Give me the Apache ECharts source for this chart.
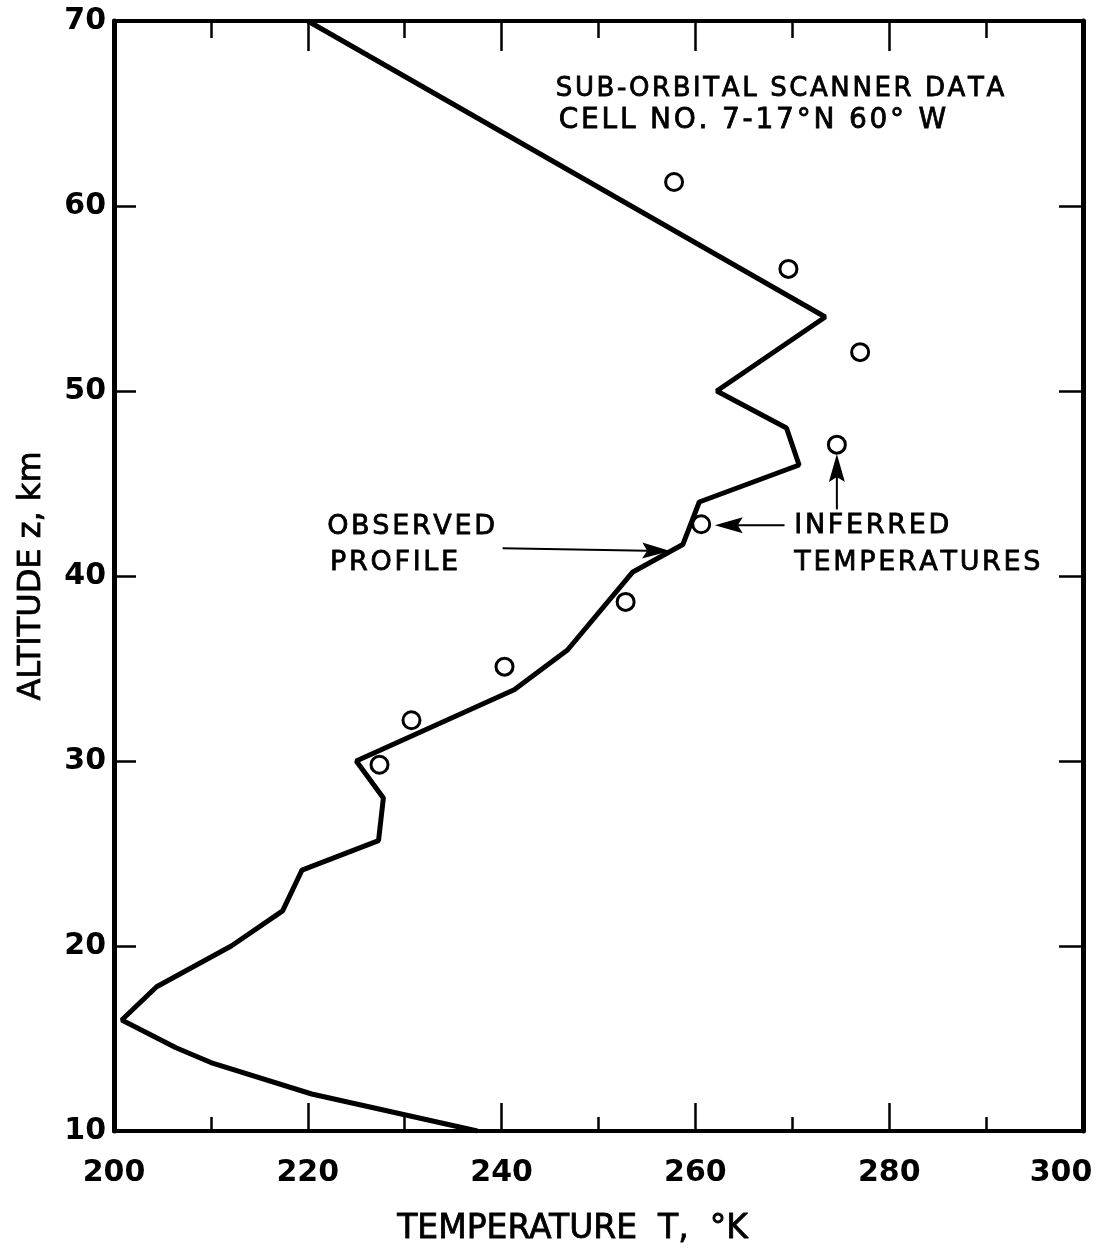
<!DOCTYPE html>
<html>
<head>
<meta charset="utf-8">
<script src="https://cdn.jsdelivr.net/npm/echarts@6/dist/echarts.min.js"></script>
<style>
  html, body { margin: 0; padding: 0; background: #fff; }
  #chart { width: 1102px; height: 1248px; }
</style>
</head>
<body>
<div id="chart"></div>
<script>
// Observed temperature profile (top of the atmosphere downward)
const profileTemp = [220.0, 273.4, 262.2, 269.4, 270.7, 260.4, 258.7, 253.5, 246.8, 241.3, 225.0, 227.8, 227.3, 219.4, 217.4, 212.1, 204.4, 200.8, 206.4, 210.0, 220.4, 237.5];
const profileAlt  = [70.0,  54.0,  50.0,  48.0,  46.0,  44.0,  41.7,  40.2,  36.0,  33.85, 30.0,  28.0,  25.7,  24.1,  21.9,  20.0,  17.8,  16.0,  14.5,  13.7,  12.0,  10.0];

// Temperatures inferred from the sub-orbital scanner
const inferredTemp = [257.8, 269.6, 277.0, 274.6, 260.6, 252.8, 240.3, 230.7, 227.4];
const inferredAlt  = [61.3,  56.6,  52.1,  47.1,  42.8,  38.6,  35.1,  32.2,  29.8];

// Axis ticks
const tempTicks = [200, 220, 240, 260, 280, 300];
const altTicks  = [10, 20, 30, 40, 50, 60, 70];

// Annotation texts, anchored in data coordinates [T, z] (left edge, vertical middle)
const noteTexts   = ['SUB-ORBITAL SCANNER DATA', 'CELL NO. 7-17°N 60° W', 'OBSERVED', 'PROFILE', 'INFERRED', 'TEMPERATURES'];
const noteAnchors = [[245.6, 66.3], [245.9, 64.6], [222.0, 42.65], [222.3, 40.7], [270.2, 42.7], [270.2, 40.7]];
const noteSizes   = [26, 28, 27, 27, 27, 27];

// Pointer arrows: from -> tip, in data coordinates
const arrowFrom = [[240.1, 41.5], [269.2, 42.74], [274.6, 43.6]];
const arrowTip  = [[257.4, 41.35], [262.0, 42.74], [274.6, 46.6]];

const FONT = '"DejaVu Sans", "Liberation Sans", Arial, sans-serif';
const INK = '#000';

const chart = echarts.init(document.getElementById('chart'), null, { renderer: 'canvas' });

const xCommon = {
  type: 'value',
  min: tempTicks[0],
  max: tempTicks[tempTicks.length - 1],
  interval: tempTicks[1] - tempTicks[0],
  splitLine: { show: false },
  minorSplitLine: { show: false },
  axisLine: { show: true, onZero: false, lineStyle: { color: INK, width: 4 } }
};
const yCommon = {
  type: 'value',
  min: altTicks[0],
  max: altTicks[altTicks.length - 1],
  interval: altTicks[1] - altTicks[0],
  splitLine: { show: false },
  axisLine: { show: true, onZero: false, lineStyle: { color: INK, width: 5 } }
};

const lastTemp = tempTicks[tempTicks.length - 1];

chart.setOption({
  animation: false,
  backgroundColor: '#fff',
  grid: { left: 114, right: 19, top: 21, bottom: 117, containLabel: false, outerBoundsMode: 'none' },
  xAxis: [
    Object.assign({}, xCommon, {
      position: 'bottom',
      axisTick: { show: true, inside: true, length: 28, lineStyle: { color: INK, width: 2.5 } },
      minorTick: { show: true, splitNumber: 2, length: 14, lineStyle: { color: INK, width: 2.5 } },
      axisLabel: {
        show: true, margin: 27, fontSize: 30, fontWeight: 'bold', color: INK, fontFamily: FONT,
        // the last label is pulled in so it stays inside the page
        formatter: v => (v === lastTemp ? '{edge|' + v + '}' : String(v)),
        rich: { edge: { fontSize: 30, fontWeight: 'bold', color: INK, fontFamily: FONT, padding: [0, 44, 0, 0] } }
      },
      name: 'TEMPERATURE  T,  °K',
      nameLocation: 'middle',
      nameGap: 82,
      nameTextStyle: { fontSize: 33, color: INK, fontFamily: FONT, padding: [0, 52, 0, 0],
                       textBorderColor: INK, textBorderWidth: 0.8 }
    }),
    Object.assign({}, xCommon, {
      position: 'top',
      axisTick: { show: true, inside: true, length: 30, lineStyle: { color: INK, width: 2.5 } },
      minorTick: { show: true, splitNumber: 2, length: 17, lineStyle: { color: INK, width: 2.5 } },
      axisLabel: { show: false }
    })
  ],
  yAxis: [
    Object.assign({}, yCommon, {
      position: 'left',
      axisTick: { show: true, inside: true, length: 22, lineStyle: { color: INK, width: 2.5 } },
      axisLabel: { show: true, margin: 8, fontSize: 30, fontWeight: 'bold', color: INK, fontFamily: FONT },
      name: 'ALTITUDE z, km',
      nameLocation: 'middle',
      nameGap: 66,
      nameTextStyle: { fontSize: 32, color: INK, fontFamily: FONT,
                       textBorderColor: INK, textBorderWidth: 0.8 }
    }),
    Object.assign({}, yCommon, {
      position: 'right',
      axisTick: { show: true, inside: true, length: 24, lineStyle: { color: INK, width: 2.5 } },
      axisLabel: { show: false }
    })
  ],
  series: [
    {
      name: 'Inferred temperatures',
      type: 'scatter',
      xAxisIndex: 0,
      yAxisIndex: 0,
      z: 2,
      symbol: 'circle',
      symbolSize: 17,
      itemStyle: { color: '#fff', borderColor: INK, borderWidth: 3, opacity: 1 },
      data: inferredTemp.map((t, i) => [t, inferredAlt[i]])
    },
    {
      name: 'Observed profile',
      type: 'line',
      xAxisIndex: 0,
      yAxisIndex: 0,
      z: 3,
      symbol: 'none',
      lineStyle: { color: INK, width: 5 },
      data: profileTemp.map((t, i) => [t, profileAlt[i]])
    }
  ]
});

// Letter-spaced lettering for the in-plot notes
const spaced = s => s.split('').join('\u200A');
const toPx = p => chart.convertToPixel({ xAxisIndex: 0, yAxisIndex: 0 }, p);

const graphics = [];
noteTexts.forEach((txt, i) => {
  const p = toPx(noteAnchors[i]);
  graphics.push({
    type: 'text',
    x: p[0], y: p[1],
    silent: true,
    style: {
      text: spaced(txt),
      fontSize: noteSizes[i],
      fontFamily: FONT,
      fill: INK,
      stroke: INK,
      lineWidth: 0.8,
      align: 'left',
      verticalAlign: 'middle'
    }
  });
});

arrowFrom.forEach((from, i) => {
  const a = toPx(from);
  const b = toPx(arrowTip[i]);
  const dx = b[0] - a[0], dy = b[1] - a[1];
  const len = Math.hypot(dx, dy);
  const ux = dx / len, uy = dy / len;
  const nx = -uy, ny = ux;
  const headLen = 28, headHalf = 8, notch = 5;
  const bx = b[0] - ux * headLen, by = b[1] - uy * headLen;
  graphics.push({
    type: 'line', silent: true,
    shape: { x1: a[0], y1: a[1], x2: bx + ux * notch, y2: by + uy * notch },
    style: { stroke: INK, lineWidth: 2 }
  });
  graphics.push({
    type: 'polygon', silent: true,
    shape: { points: [
      [b[0], b[1]],
      [bx + nx * headHalf, by + ny * headHalf],
      [bx + ux * notch, by + uy * notch],
      [bx - nx * headHalf, by - ny * headHalf]
    ] },
    style: { fill: INK }
  });
});

chart.setOption({ graphic: graphics });
</script>
</body>
</html>
